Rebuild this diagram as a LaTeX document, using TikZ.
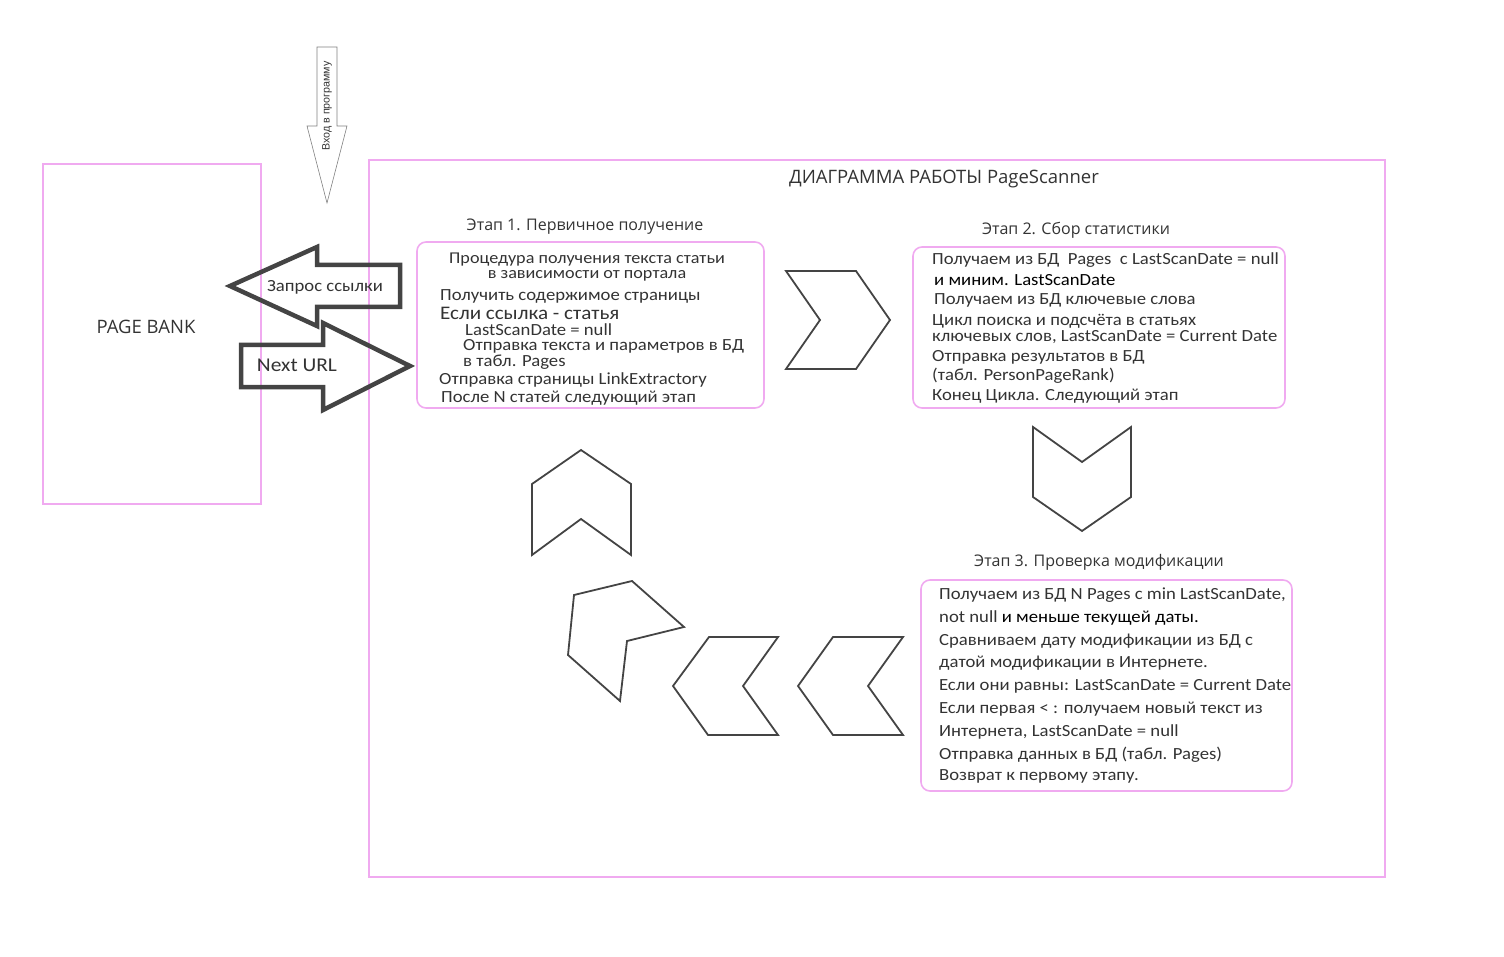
\documentclass[tikz,border=0pt]{standalone}
\usepackage{fontspec}
\setmainfont{Open Sans}
\newfontfamily\boxfont[FakeStretch=1.1]{Carlito}
\newfontfamily\arrowfont{Liberation Sans}
\definecolor{frame}{RGB}{240,170,240}
\definecolor{ink}{RGB}{51,51,51}
\definecolor{shape}{RGB}{68,68,68}
\tikzset{
  frm/.style={draw=frame, line width=1.6pt},
  stage/.style={frm, rounded corners=9pt},
  chev/.style={draw=shape, line width=1.8pt, line join=miter},
  fat/.style={draw=shape, line width=4.5pt, line join=miter},
  ln/.style={anchor=west, inner sep=0pt, text=ink, font=\boxfont\fontsize{17}{17}\selectfont},
  hd/.style={inner sep=0pt, text=ink, font=\fontsize{16}{16}\selectfont}
}
\begin{document}
\begin{tikzpicture}[x=1pt,y=-1pt]
\useasboundingbox (0,0) rectangle (1504,957);

% frames
\draw[frm] (43,164) rectangle (261,504);
\draw[frm] (369,160) rectangle (1385,877);
\node[hd, font=\fontsize{18.5}{18}\selectfont] (bank) at (146,327) {PAGE BANK};
\node[hd, font=\fontsize{18.5}{18}\selectfont] (title) at (944,179) {ДИАГРАММА РАБОТЫ PageScanner};

% stage boxes
\draw[stage] (417,242) rectangle (764,408);
\draw[stage] (913,247) rectangle (1285,408);
\draw[stage] (921,580) rectangle (1292,791);

\node[hd] (h1) at (585,227) {Этап 1. Первичное получение};
\node[hd] (h2) at (1076,230) {Этап 2. Сбор статистики};
\node[hd] (h3) at (1099,562) {Этап 3. Проверка модификации};

% stage 1
\node[ln, anchor=center, align=center, font=\boxfont\fontsize{16.5}{15}\selectfont] (s1a) at (587,267)
  {Процедура получения текста статьи\\в зависимости от портала};
\node[ln] (s1c) at (440,296) {Получить содержимое страницы};
\node[ln, font=\boxfont\fontsize{19.2}{19}\selectfont] (s1d) at (440,313) {Если ссылка - статья};
\node[ln] (s1e) at (465,330) {LastScanDate = null};
\node[ln] (s1f) at (463,346) {Отправка текста и параметров в БД};
\node[ln] (s1g) at (463,362) {в табл. Pages};
\node[ln] (s1h) at (439,380) {Отправка страницы LinkExtractory};
\node[ln] (s1i) at (441,398) {После N статей следующий этап};

% stage 2
\node[ln] (s2a) at (932,260) {Получаем из БД\ \ Pages\ \ с LastScanDate = null};
\node[ln, text=black] (s2b) at (934,280) {и миним. LastScanDate};
\node[ln] (s2c) at (934,300) {Получаем из БД ключевые слова};
\node[ln] (s2d) at (932,321) {Цикл поиска и подсчёта в статьях};
\node[ln] (s2e) at (932,337) {ключевых слов, LastScanDate = Current Date};
\node[ln] (s2f) at (932,357) {Отправка результатов в БД};
\node[ln] (s2g) at (932,376) {(табл. PersonPageRank)};
\node[ln] (s2h) at (932,396) {Конец Цикла. Следующий этап};

% stage 3
\node[ln] (s3a) at (939,595) {Получаем из БД N Pages с min LastScanDate,};
\node[ln] (s3b) at (939,618) {not null \textcolor{black}{и меньше текущей даты.}};
\node[ln] (s3c) at (939,641) {Сравниваем дату модификации из БД с};
\node[ln] (s3d) at (939,663) {датой модификации в Интернете.};
\node[ln] (s3e) at (939,686) {Если они равны: LastScanDate = Current Date};
\node[ln] (s3f) at (939,709) {Если первая < : получаем новый текст из};
\node[ln] (s3g) at (939,732) {Интернета, LastScanDate = null};
\node[ln] (s3h) at (939,755) {Отправка данных в БД (табл. Pages)};
\node[ln] (s3i) at (939,776) {Возврат к первому этапу.};

% entry arrow
\draw[draw=gray, line width=0.6pt] (317,47) -- (337,47) -- (337,126) -- (347,126) -- (327,203)
  -- (307,126) -- (317,126) -- cycle;
\node[rotate=90, inner sep=0pt, text=ink, font=\arrowfont\fontsize{10.7}{11}\selectfont] (entry) at (327,106) {Вход в программу};

% request / reply arrows
\draw[fat] (230,286) -- (317,247) -- (317,265) -- (400,265) -- (400,307) -- (317,307) -- (317,326) -- cycle;
\node[inner sep=0pt, text=ink, font=\boxfont\fontsize{17}{17}\selectfont] (req) at (325,287) {Запрос ссылки};
\draw[fat] (241,345) -- (323,345) -- (323,323) -- (410,366) -- (323,410) -- (323,387) -- (241,387) -- cycle;
\node[inner sep=0pt, text=ink, font=\boxfont\fontsize{19.5}{19}\selectfont] (next) at (297,365) {Next URL};

% chevrons
\draw[chev] (786,271) -- (856,271) -- (890,320) -- (856,369) -- (786,369) -- (820,320) -- cycle;
\draw[chev] (1033,427) -- (1082,462) -- (1131,427) -- (1131,497) -- (1082,531) -- (1033,497) -- cycle;
\draw[chev] (833,637) -- (903,637) -- (868,686) -- (903,735) -- (833,735) -- (798,686) -- cycle;
\draw[chev] (709,637) -- (778,637) -- (743,686) -- (778,735) -- (708,735) -- (673,686) -- cycle;
\draw[chev] (574,595) -- (632,581) -- (684,627) -- (627,641) -- (620,701) -- (568,655) -- cycle;
\draw[chev] (532,484) -- (581,450) -- (631,484) -- (631,555) -- (581,519) -- (532,555) -- cycle;

\end{tikzpicture}
\end{document}
